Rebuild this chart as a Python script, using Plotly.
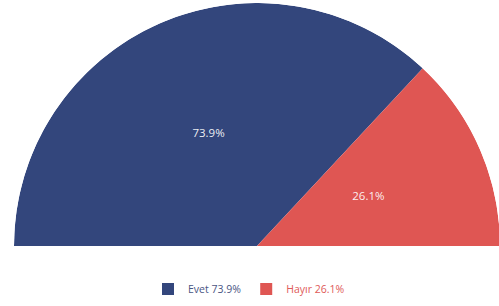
import plotly.graph_objects as go

categories = ["Evet", "Hayır"]
values = [73.9, 26.1]
colors = ["#33467c", "#df5653"]
legend_text_colors = ["#4a5583", "#e05a57"]

total = sum(values)
spans = [v / total * 180 for v in values]
# slices start at the left (180 deg) and run clockwise
thetas = []
start = 180.0
for s in spans:
    thetas.append(start - s / 2)
    start -= s

fig = go.Figure()
for cat, v, th, w, c, lc in zip(categories, values, thetas, spans, colors, legend_text_colors):
    fig.add_trace(go.Barpolar(
        r=[1], theta=[th], width=[w],
        marker=dict(color=c, line=dict(width=0)),
        name=f"<span style='color:{lc}'>{cat} {v:.1f}%</span>",
        hoverinfo="skip",
    ))

fig.add_trace(go.Scatterpolar(
    r=[0.5] * len(values), theta=thetas,
    mode="text",
    text=[f"{v:.1f}%" for v in values],
    textfont=dict(color="rgba(255,255,255,0.92)", size=11.5, family="Open Sans"),
    showlegend=False, hoverinfo="skip",
))

fig.update_layout(
    width=500, height=306,
    margin=dict(l=14, r=0, t=3, b=60),
    paper_bgcolor="white",
    font=dict(family="Open Sans", size=10.5),
    polar=dict(
        sector=[0, 180],
        bgcolor="white",
        hole=0,
        radialaxis=dict(range=[0, 1], visible=False, showgrid=False, showline=False, showticklabels=False, ticks=""),
        angularaxis=dict(visible=False, showgrid=False, showline=False, showticklabels=False, ticks="",
                         direction="counterclockwise", rotation=0),
        bargap=0,
    ),
    legend=dict(orientation="h", x=0.498, xanchor="center", xref="container",
                y=1 - 289 / 306, yanchor="middle", yref="container",
                font=dict(size=10.5, family="Open Sans"), itemwidth=30,
                traceorder="normal"),
)

fig.write_html("out.html", config={"displayModeBar": False},
               post_script="document.body.style.margin='0';document.body.style.overflow='hidden';")
